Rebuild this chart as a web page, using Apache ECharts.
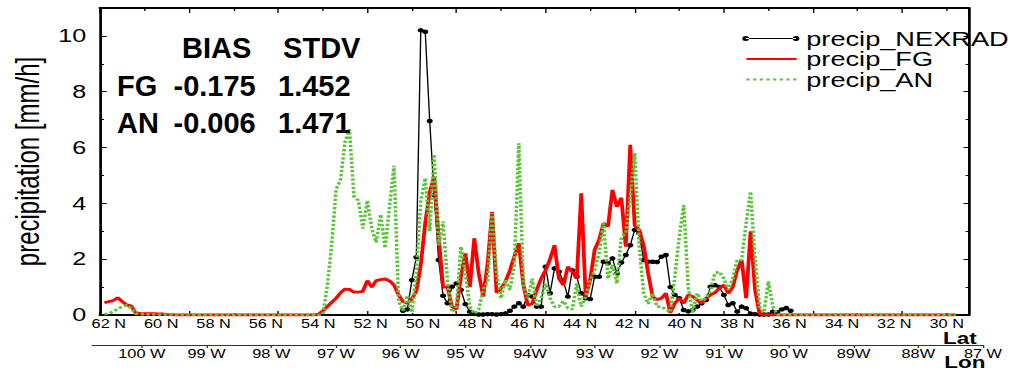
<!DOCTYPE html>
<html>
<head>
<meta charset="utf-8">
<script src="https://cdn.jsdelivr.net/npm/echarts@6/dist/echarts.min.js"></script>
<style>
  html, body { margin: 0; padding: 0; background: #fff; overflow: hidden; }
  #wrap { width: 1036px; height: 371px; overflow: hidden; }
  /* the figure is laid out on a 762 px wide canvas and stretched to the page width */
  #chart { width: 762px; height: 371px; transform: scaleX(1.35958); transform-origin: 0 0; }
</style>
</head>
<body>
<div id="wrap"><div id="chart"></div></div>
<script>
// ---- track samples (index along the flight track) ----
const FIRST_SAMPLE = 1;      // index of the first model sample
const NEXRAD_FIRST = 68;     // index of the first radar sample

const precipNEXRAD = [
  0.15, 0.2, 1.25, 2.07, 10.2, 10.15, 6.95, 4.3, 1.97, 0.69,
  0.42, 1.01, 1.13, 0.9, 0.39, 0.12, 0.04, 0.02, 0.02, 0.03,
  0.03, 0.02, 0.03, 0.06, 0.15, 0.3, 0.42, 0.3, 0.72, 0.66,
  0.3, 0.3, 1.73, 0.78, 1.67, 1.55, 1.2, 0.66, 1.6, 1.37,
  0.78, 0.6, 0.57, 1.37, 1.37, 1.91, 1.85, 2.03, 1.49, 1.88,
  2.15, 2.5, 3.05, 2.93, 1.97, 1.91, 1.91, 1.9, 2.09, 2.15,
  1.0, 0.72, 0.6, 0.18, 0.13, 0.18, 0.3, 0.42, 0.54, 1.01,
  1.07, 1.0, 0.72, 0.36, 0.42, 0.12, 0.3, 0.24, 0.05, 0.03,
  0.02, 0.02, 0.02, 0.12, 0.1, 0.2, 0.25, 0.15
];

const precipFG = [
  0.44, 0.48, 0.52, 0.62, 0.48, 0.36, 0.33, 0.08, 0.06, 0.05,
  0.05, 0.05, 0.04, 0.04, 0.02, 0.01, 0, 0,
  0, 0, 0, 0, 0, 0, 0, 0, 0, 0,
  0, 0, 0, 0, 0, 0, 0, 0, 0, 0,
  0, 0, 0, 0, 0, 0, 0, 0, 0, 0,
  0.02, 0.15, 0.3, 0.45, 0.6, 0.8, 0.93, 0.92, 0.82, 0.82,
  0.85, 1.23, 1.0, 1.23, 1.27, 1.29, 1.22, 1.07, 0.72, 0.48,
  0.42, 0.58, 0.85, 1.8, 3.3, 4.4, 4.95, 2.8, 1.0, 1.0,
  0.3, 0.2, 1.37, 2.21, 1.0, 2.75, 1.49, 0.66, 1.85, 3.7,
  0.8, 0.95, 1.2, 1.6, 2.1, 2.57, 1.1, 0.35, 0.4, 0.9,
  1.3, 1.6, 2.0, 2.5, 1.3, 1.07, 1.73, 1.55, 1.31, 4.36,
  0.66, 1.25, 2.33, 2.69, 3.29, 3.17, 4.48, 3.88, 4.2, 2.45,
  6.1, 3.2, 3.05, 2.5, 1.5, 0.66, 0.55, 0.6, 0.78, 0.08,
  0.42, 0.6, 0.42, 0.72, 0.66, 0.54, 0.42, 0.6, 0.72, 0.8,
  0.96, 1.07, 0.78, 1.0, 1.6, 1.97, 0.6, 3.0, 0.9, 0.05,
  0.02,
  0, 0, 0, 0, 0, 0, 0, 0, 0, 0,
  0, 0, 0, 0, 0, 0, 0, 0, 0, 0,
  0, 0, 0, 0, 0, 0, 0, 0, 0, 0,
  0, 0, 0, 0, 0, 0, 0, 0, 0, 0,
  0, 0, 0
];

const precipAN = [
  0.03, 0.05, 0.12, 0.22, 0.3, 0.35, 0.25, 0.05, 0.03,
  0.02, 0.02, 0.02, 0.02, 0.02, 0.02, 0.02, 0.02, 0.02, 0.02, 0.02,
  0, 0, 0, 0, 0, 0, 0, 0, 0, 0,
  0, 0, 0, 0, 0, 0, 0, 0, 0, 0,
  0, 0, 0, 0, 0, 0, 0, 0, 0,
  0.02, 1.0, 2.5, 4.5, 4.85, 6.2, 6.65, 4.25, 4.1, 3.1,
  4.1, 3.1, 2.6, 3.6, 2.4, 3.9, 5.35, 0.5, 0.15, 0.7,
  0.1, 1.5, 4.1, 4.9, 3.0, 5.75, 2.5, 3.35, 1.2, 0.1,
  0.3, 2.45, 1.5, 0.3, 0.05, 0.2, 0.9, 1.2, 3.65, 1.5,
  0.6, 1.25, 0.9, 1.8, 6.15, 1.1, 0.6, 1.3, 0.3, 0.6,
  1.13, 0.6, 0.3, 0.3, 0.5, 0.25, 0.2, 1.13, 0.3, 0.66,
  1.2, 1.6, 2.21, 3.29, 1.3, 1.8, 1.13, 2.8, 2.93, 4.2,
  5.8, 2.5, 0.8, 0.4, 0.78, 0.3, 0.3, 0.2, 0.1, 1.37,
  2.8, 3.94, 1.0, 0.1, 0.78, 0.5, 0.6, 0.9, 1.5, 1.55,
  1.31, 0.9, 1.31, 1.97, 1.97, 3.3, 4.42, 2.0, 0.3, 0.1,
  1.2, 0.3, 0.02,
  0.01, 0.01, 0.01, 0.01, 0.01, 0.01, 0.01, 0.01, 0.01, 0.01,
  0.01, 0.01, 0.01, 0.01, 0.01, 0.01, 0.01, 0.01, 0.01, 0.01,
  0.01, 0.01, 0.01, 0.01, 0.01, 0.01, 0.01, 0.01, 0.01, 0.01,
  0.01, 0.01, 0.01, 0.01, 0.01, 0.01, 0.01, 0.01, 0.01, 0.01
];

// ---- axis labels ----
const latTickValues = [62, 60, 58, 56, 54, 52, 50, 48, 46, 44, 42, 40, 38, 36, 34, 32, 30];
const latTickLabels = ['62 N', '60 N', '58 N', '56 N', '54 N', '52 N', '50 N', '48 N', '46 N',
                       '44 N', '42 N', '40 N', '38 N', '36 N', '34 N', '32 N', '30 N'];
const lonTickValues = [100, 99, 98, 97, 96, 95, 94, 93, 92, 91, 90, 89, 88, 87];
const lonTickLabels = ['100 W', '99 W', '98 W', '97 W', '96 W', '95 W', '94W', '93 W',
                       '92 W', '91 W', '90 W', '89W', '88W', '87 W'];

// ---- statistics box ----
const statNames = ['FG', 'AN'];
const statBias = [-0.175, -0.006];
const statStdv = [1.452, 1.471];

// track geometry: latitude of two samples (linear along the track)
const TRACK_IDX = [2, 190];
const TRACK_LAT = [62, 30];
const SAMPLE_MAX = 195;
const LON_RANGE = [87, 100.77];   // longitude span of the lower (Lon) axis, deg W

function latAt(i) {
  return TRACK_LAT[0] + (i - TRACK_IDX[0]) * (TRACK_LAT[1] - TRACK_LAT[0]) / (TRACK_IDX[1] - TRACK_IDX[0]);
}

const FONT = '"Liberation Sans", Arial, Helvetica, sans-serif';
const STRETCH = 1036 / 762;

const toPairs = (arr, first) => arr.map((v, k) => [first + k, v]);

// legend glyphs
const nexradIcon = 'path://M0,2.5a2.5,2.5 0 1,0 5,0a2.5,2.5 0 1,0 -5,0ZM37,2.5a2.5,2.5 0 1,0 5,0a2.5,2.5 0 1,0 -5,0ZM2.5,2H39.5V3H2.5Z';
const fgIcon = 'path://M0,0h.01v.01h-.01ZM3,1.4H40V3.6H3ZM41.99,4.99h.01v.01h-.01Z';
let dots = 'path://M0,0h.01v.01h-.01Z';
for (let k = 0; k < 8; k++) { dots += 'M' + (3 + k * 4.9).toFixed(2) + ',1.6h2.4v1.8h-2.4Z'; }
dots += 'M41.99,4.99h.01v.01h-.01Z';
const anIcon = dots;

const BLACK = '#000';
const RED = '#ff0000';
const GREEN = '#5ec23a';

function boldText(text, x, y) {
  return {
    type: 'text', x: x, y: y, scaleX: 1 / STRETCH, z: 100,
    style: { text: text, fill: BLACK, font: 'bold 29px ' + FONT, align: 'left', verticalAlign: 'middle' }
  };
}

const graphics = [
  boldText('BIAS', 133.9, 48.5),
  boldText('STDV', 208.2, 48.5)
];
statNames.forEach((n, r) => {
  const y = 86 + r * 36.8;
  graphics.push(boldText(n, 86.1, y));
  graphics.push(boldText(statBias[r].toFixed(3), 127.6, y));
  graphics.push(boldText(statStdv[r].toFixed(3), 204.5, y));
});
graphics.push({ type: 'text', x: 693.6, y: 338.5, z: 100,
  style: { text: 'Lat', fill: BLACK, font: 'bold 16.5px ' + FONT, align: 'left', verticalAlign: 'middle' } });
graphics.push({ type: 'text', x: 694.5, y: 362, z: 100,
  style: { text: 'Lon', fill: BLACK, font: 'bold 16.5px ' + FONT, align: 'left', verticalAlign: 'middle' } });

const indexAxis = (pos, major, minor) => ({
  type: 'value', gridIndex: 0, position: pos, min: 0, max: SAMPLE_MAX, interval: 20,
  axisLine: { show: true, onZero: false, lineStyle: { color: BLACK, width: 2 } },
  axisTick: { show: true, inside: true, length: major, lineStyle: { color: BLACK, width: 1 } },
  minorTick: { show: true, splitNumber: 2, length: minor, lineStyle: { color: BLACK, width: 1 } },
  axisLabel: { show: false }, splitLine: { show: false }, minorSplitLine: { show: false }
});

const valueAxis = (pos, withLabels) => ({
  type: 'value', gridIndex: 0, position: pos, min: 0, max: 11, interval: 2,
  axisLine: { show: true, onZero: false, lineStyle: { color: BLACK, width: 2 } },
  axisTick: { show: true, inside: true, length: withLabels ? 5 : 4, lineStyle: { color: BLACK, width: 1 } },
  minorTick: { show: true, splitNumber: 2, length: withLabels ? 3 : 2.5, lineStyle: { color: BLACK, width: 1 } },
  splitLine: { show: false }, minorSplitLine: { show: false },
  axisLabel: withLabels ? {
    show: true, margin: 10, color: BLACK, fontFamily: FONT, fontSize: 18.5, showMaxLabel: false,
    formatter: v => (v % 2 === 0 ? String(v) : '')
  } : { show: false }
});

const option = {
  backgroundColor: '#fff',
  animation: false,
  grid: [
    { left: 71, right: 49.3, top: 8, bottom: 56 },
    { left: 67.7, right: 39, top: 344, height: 1 }
  ],
  xAxis: [
    indexAxis('bottom', 4, 2),
    indexAxis('top', 5, 3),
    {
      type: 'value', gridIndex: 0, position: 'bottom', inverse: true,
      min: latAt(SAMPLE_MAX), max: latAt(0),
      axisLine: { show: false }, axisTick: { show: false }, splitLine: { show: false },
      axisLabel: {
        customValues: latTickValues, margin: 3, color: BLACK, fontFamily: FONT, fontSize: 12,
        formatter: v => latTickLabels[latTickValues.indexOf(Math.round(v))]
      }
    },
    {
      type: 'value', gridIndex: 1, position: 'bottom', inverse: true,
      min: LON_RANGE[0], max: LON_RANGE[1],
      axisLine: { show: true, onZero: false, lineStyle: { color: '#333', width: 1 } },
      axisTick: { show: true, customValues: lonTickValues, inside: false, length: 3, lineStyle: { color: '#333', width: 1 } },
      splitLine: { show: false },
      axisLabel: {
        customValues: lonTickValues, margin: 3, color: BLACK, fontFamily: FONT, fontSize: 12,
        formatter: v => lonTickLabels[lonTickValues.indexOf(Math.round(v))]
      }
    }
  ],
  yAxis: [
    Object.assign(valueAxis('left', true), {
      name: 'precipitation [mm/h]', nameLocation: 'middle', nameGap: 30, nameRotate: 90,
      nameTextStyle: { color: BLACK, fontFamily: FONT, fontSize: 24 }
    }),
    valueAxis('right', false),
    { type: 'value', gridIndex: 1, show: false }
  ],
  legend: {
    orient: 'vertical', left: 546, top: 28.5, padding: 0, itemGap: 0.5,
    itemWidth: 42, itemHeight: 5, selectedMode: false,
    textStyle: { color: BLACK, fontFamily: FONT, fontSize: 20, lineHeight: 18 },
    data: [
      { name: 'precip_NEXRAD', icon: nexradIcon },
      { name: 'precip_FG', icon: fgIcon },
      { name: 'precip_AN', icon: anIcon }
    ]
  },
  graphic: graphics,
  series: [
    {
      name: 'precip_NEXRAD', type: 'line', xAxisIndex: 0, yAxisIndex: 0,
      data: toPairs(precipNEXRAD, NEXRAD_FIRST),
      symbol: 'circle', symbolSize: 4.5, showSymbol: true, showAllSymbol: true,
      itemStyle: { color: BLACK }, lineStyle: { color: BLACK, width: 1 }, z: 2
    },
    {
      name: 'precip_FG', type: 'line', xAxisIndex: 0, yAxisIndex: 0,
      data: toPairs(precipFG, FIRST_SAMPLE), symbol: 'none',
      itemStyle: { color: RED }, lineStyle: { color: RED, width: 2.8 }, z: 3
    },
    {
      name: 'precip_AN', type: 'line', xAxisIndex: 0, yAxisIndex: 0,
      data: toPairs(precipAN, FIRST_SAMPLE), symbol: 'none',
      itemStyle: { color: GREEN }, lineStyle: { color: GREEN, width: 2.6, type: [2.4, 1.8], cap: 'butt' }, z: 4
    }
  ]
};

const chart = echarts.init(document.getElementById('chart'), null, { renderer: 'svg', width: 762, height: 371 });
chart.setOption(option);
</script>
</body>
</html>
